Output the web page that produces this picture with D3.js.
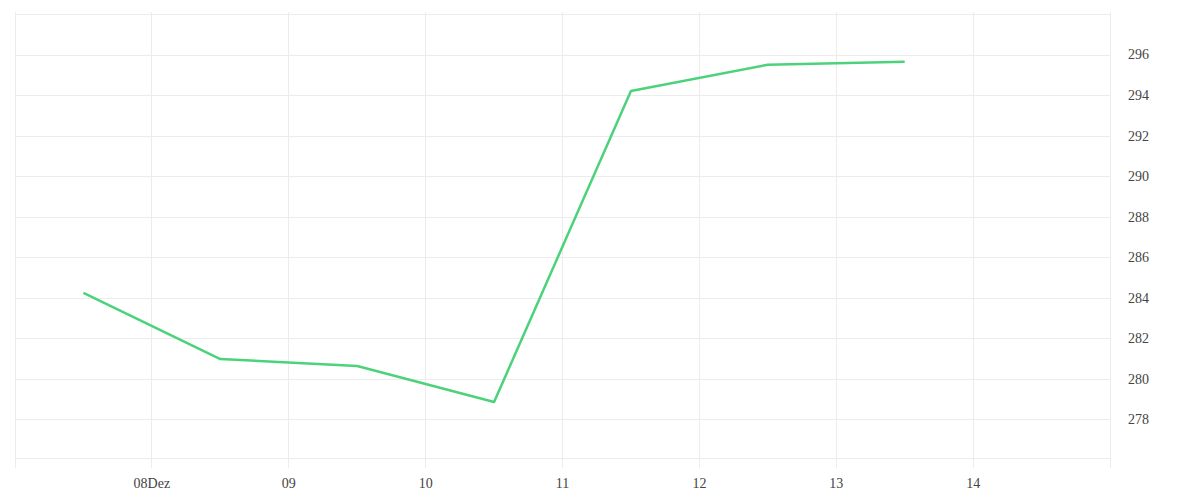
<!DOCTYPE html>
<html>
<head>
<meta charset="utf-8">
<script src="https://cdn.jsdelivr.net/npm/d3@7"></script>
<style>
    html, body { margin: 0; padding: 0; background: #fff; }
    .grid line { stroke: #ececec; stroke-width: 1; shape-rendering: crispEdges; }
    .tick-label { font-family: "Liberation Serif", serif; font-size: 14px; fill: #444; }
    .line { fill: none; stroke: #4cd27b; stroke-width: 2.5; stroke-linejoin: round; }
</style>
</head>
<body>
<div class="graph wrapper"></div>
<script>
'use strict';
// data points, one per day at noon (UTC)
var dates = ["2020-12-07T12:00Z", "2020-12-08T12:00Z", "2020-12-09T12:00Z", "2020-12-10T12:00Z",
             "2020-12-11T12:00Z", "2020-12-12T12:00Z", "2020-12-13T12:00Z"];
var values = [284.25, 280.98, 280.64, 278.86, 294.2, 295.5, 295.65];

// x axis: day ticks and their labels
var dayTicks = ["2020-12-07", "2020-12-08", "2020-12-09", "2020-12-10", "2020-12-11",
                "2020-12-12", "2020-12-13", "2020-12-14", "2020-12-15"];
var dayLabels = ["", "08Dez", "09", "10", "11", "12", "13", "14", ""];

// y axis ticks
var yTicks = [278, 280, 282, 284, 286, 288, 290, 292, 294, 296];
var yDomain = [276.1, 298];

var drawGraph = function(){
    var width = 1200, height = 500;
    var left = 15, right = 1110, top = 14, bottom = 458;

    var data = dates.map(function(d, i){ return {date: new Date(d), value: values[i]}; });
    var ticks = dayTicks.map(function(d){ return new Date(d + "T00:00Z"); });

    var x = d3.scaleUtc().domain([ticks[0], ticks[ticks.length - 1]]).range([left, right]);
    var y = d3.scaleLinear().domain(yDomain).range([bottom, top]);

    var svg = d3.select(".graph.wrapper").append("svg")
        .attr("width", width)
        .attr("height", height);

    var grid = svg.append("g").attr("class", "grid");

    // horizontal gridlines (ticks + top/bottom frame)
    grid.selectAll("line.h")
        .data(yTicks.concat(yDomain))
        .enter().append("line")
        .attr("class", "h")
        .attr("x1", left).attr("x2", right)
        .attr("y1", function(d){ return Math.round(y(d)) + 0.5; })
        .attr("y2", function(d){ return Math.round(y(d)) + 0.5; });

    // vertical gridlines, running down past the plot as tick marks
    grid.selectAll("line.v")
        .data(ticks)
        .enter().append("line")
        .attr("class", "v")
        .attr("x1", function(d){ return Math.floor(x(d)) + 0.5; })
        .attr("x2", function(d){ return Math.floor(x(d)) + 0.5; })
        .attr("y1", top - 2).attr("y2", bottom + 10);

    // x labels
    svg.append("g").selectAll("text")
        .data(ticks)
        .enter().append("text")
        .attr("class", "tick-label")
        .attr("x", function(d){ return x(d); })
        .attr("y", 488)
        .attr("text-anchor", "middle")
        .text(function(d, i){ return dayLabels[i]; });

    // y labels on the right
    svg.append("g").selectAll("text")
        .data(yTicks)
        .enter().append("text")
        .attr("class", "tick-label")
        .attr("x", right + 18)
        .attr("y", function(d){ return y(d); })
        .attr("dy", "0.35em")
        .text(function(d){ return d; });

    var valueline = d3.line()
        .x(function(d){ return x(d.date); })
        .y(function(d){ return y(d.value); });

    svg.append("path")
        .data([data])
        .attr("class", "line")
        .attr("d", valueline);
};

drawGraph();
</script>
</body>
</html>
